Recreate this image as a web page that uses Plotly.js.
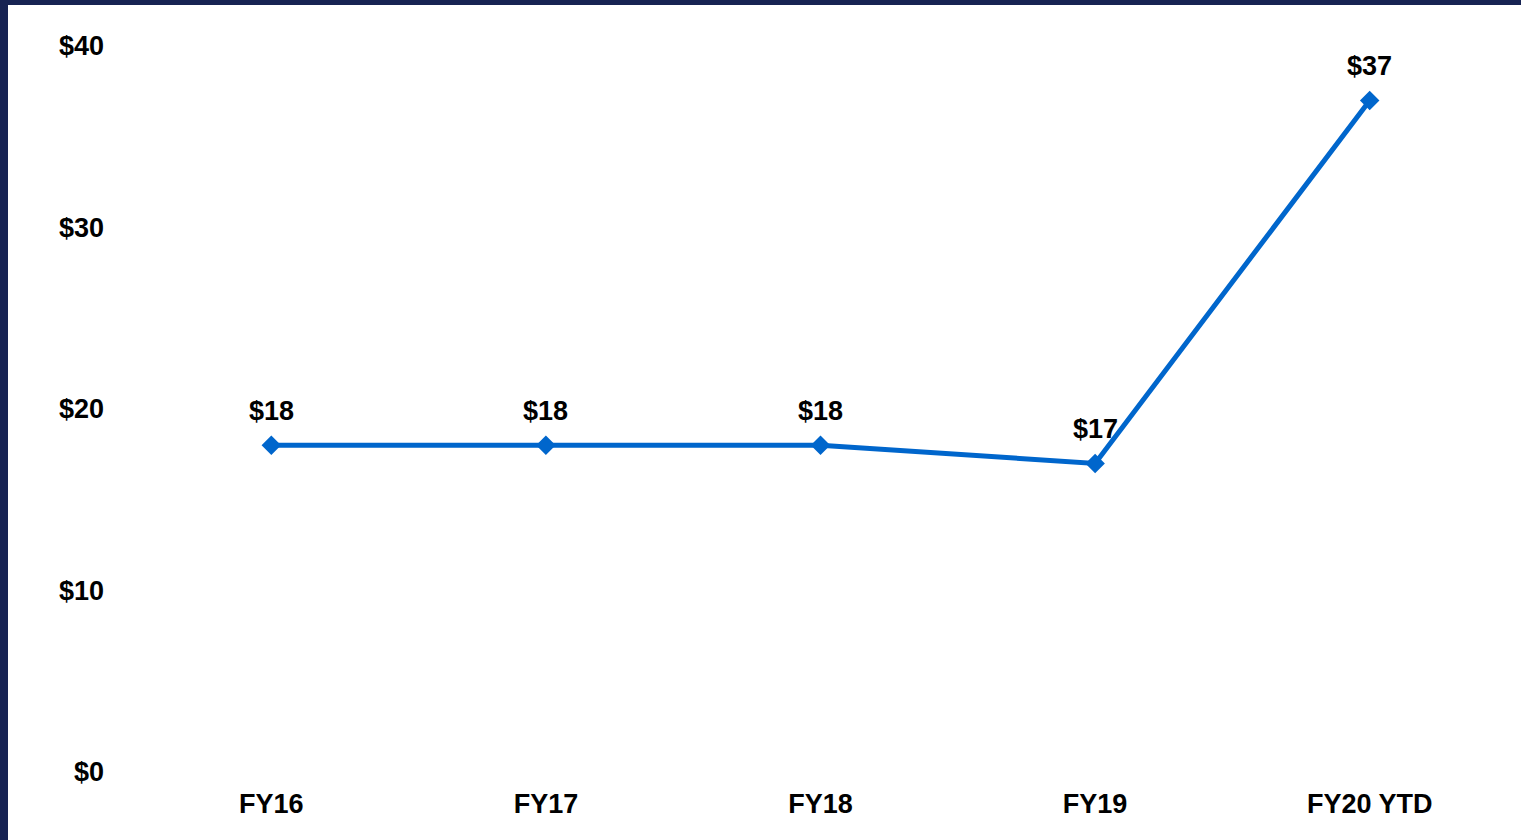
<!DOCTYPE html>
<html>
<head>
<meta charset="utf-8">
<script src="https://cdn.plot.ly/plotly-3.0.1.min.js"></script>
<style>
  html, body { margin: 0; padding: 0; width: 1521px; height: 840px; background: #172353; overflow: hidden; }
  #chart { position: absolute; left: 8px; top: 5px; width: 1513px; height: 835px; background: #ffffff; }
</style>
</head>
<body>
<div id="chart"></div>
<script>
const categories = ["FY16", "FY17", "FY18", "FY19", "FY20 YTD"];
const values = [18, 18, 18, 17, 37];
const yTickVals = [0, 10, 20, 30, 40];
const yTickText = ["$0", "$10", "$20", "$30", "$40"];

const font = { family: "Liberation Sans, Arial, sans-serif", color: "#000000", size: 27, weight: "bold" };

const trace = {
  x: categories,
  y: values,
  type: "scatter",
  mode: "lines+markers",
  line: { color: "#0066CC", width: 5 },
  marker: { symbol: "diamond", size: 15, color: "#0066CC" },
  cliponaxis: false,
  hoverinfo: "skip"
};

const annotations = categories.map((c, i) => ({
  x: c,
  y: values[i],
  xref: "x",
  yref: "y",
  text: "$" + values[i],
  showarrow: false,
  xanchor: "center",
  yanchor: "middle",
  yshift: 34,
  font: font
}));

const layout = {
  width: 1513,
  height: 835,
  paper_bgcolor: "#ffffff",
  plot_bgcolor: "#ffffff",
  margin: { l: 126, r: 14, t: 41, b: 68 },
  showlegend: false,
  font: font,
  annotations: annotations,
  xaxis: {
    type: "category",
    range: [-0.5, 4.5],
    showgrid: false,
    zeroline: false,
    showline: false,
    ticks: "",
    tickfont: font,
    ticklabelstandoff: 13
  },
  yaxis: {
    range: [0, 40],
    tickvals: yTickVals,
    ticktext: yTickText,
    showgrid: false,
    zeroline: false,
    showline: false,
    ticks: "",
    tickfont: font,
    ticklabelstandoff: 29
  }
};

Plotly.newPlot("chart", [trace], layout, { displayModeBar: false, staticPlot: true });
</script>
</body>
</html>
